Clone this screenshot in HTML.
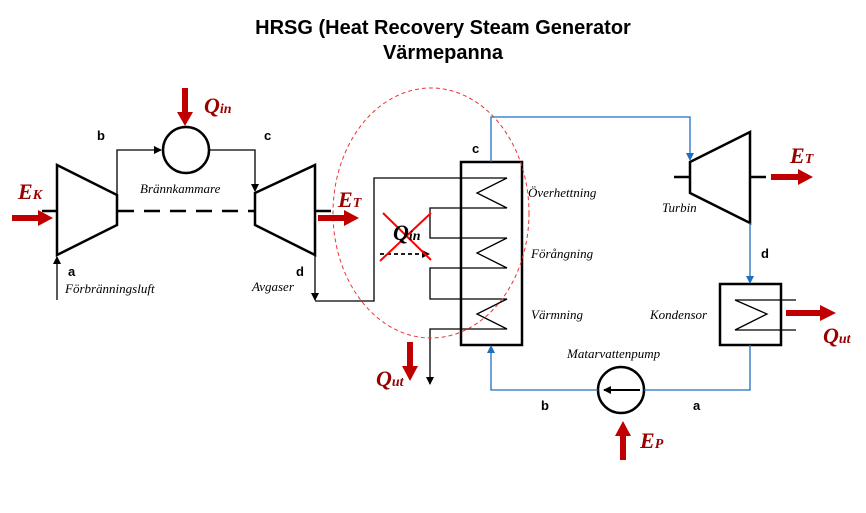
<!DOCTYPE html>
<html><head><meta charset="utf-8"><style>body{margin:0;background:#fff}svg{display:block}</style></head><body>
<svg width="866" height="513" viewBox="0 0 866 513" xmlns="http://www.w3.org/2000/svg">
<defs>
<marker id="ak" markerWidth="8" markerHeight="8" refX="7" refY="4" orient="auto" markerUnits="userSpaceOnUse"><path d="M0,0 L8,4 L0,8 Z" fill="#000"/></marker>
<marker id="ab" markerWidth="8" markerHeight="8" refX="7" refY="4" orient="auto" markerUnits="userSpaceOnUse"><path d="M0,0 L8,4 L0,8 Z" fill="#1f6fc0"/></marker>
</defs>
<g font-family="Liberation Sans, sans-serif" font-weight="bold" font-size="20" text-anchor="middle" fill="#000">
<text x="443" y="34">HRSG (Heat Recovery Steam Generator</text>
<text x="443" y="59">Värmepanna</text>
</g>
<g stroke="#000" stroke-width="2.5" fill="none">
<path d="M57,165 L117,195 L117,225 L57,255 Z"/>
<path d="M255,193 L315,165 L315,255 L255,225 Z"/>
<circle cx="186" cy="150" r="23"/>
<path d="M690,162 L750,132 L750,223 L690,193 Z"/>
<rect x="461" y="162" width="61" height="183"/>
<rect x="720" y="284" width="61" height="61"/>
<circle cx="621" cy="390" r="23"/>
</g>
<g stroke="#000" stroke-width="2.5">
<line x1="118" y1="211" x2="254" y2="211" stroke-dasharray="16,10"/>
<line x1="42" y1="211" x2="57" y2="211"/><line x1="315" y1="211" x2="331" y2="211"/>
<line x1="674" y1="177" x2="690" y2="177"/><line x1="750" y1="177" x2="766" y2="177"/>
</g>
<g stroke="#000" stroke-width="1.3" fill="none">
<line x1="57" y1="300" x2="57" y2="257" marker-end="url(#ak)"/>
<polyline points="117,195 117,150 161,150" marker-end="url(#ak)"/>
<polyline points="209,150 255,150 255,191" marker-end="url(#ak)"/>
<line x1="315" y1="255" x2="315" y2="300" marker-end="url(#ak)"/>
<polyline points="315,301 374,301 374,178 507,178 477,193 507,208 430,208 430,238 507,238 477,253 507,268 430,268 430,299 507,299 477,314 507,329 430,329 430,384" marker-end="url(#ak)"/>
<polyline points="796,300 735,300 767,314 735,330 796,330"/>
<line x1="640" y1="390" x2="604" y2="390" stroke-width="2" marker-end="url(#ak)"/>
<line x1="380" y1="254" x2="429" y2="254" stroke-dasharray="4,3" stroke-width="1.8" marker-end="url(#ak)"/>
</g>
<g stroke="#1f6fc0" stroke-width="1.3" fill="none">
<polyline points="491,162 491,117 690,117 690,160" marker-end="url(#ab)"/>
<line x1="750" y1="223" x2="750" y2="283" marker-end="url(#ab)"/>
<polyline points="750,345 750,390 644,390"/>
<polyline points="598,390 491,390 491,346" marker-end="url(#ab)"/>
</g>
<ellipse cx="431" cy="213" rx="98" ry="125" fill="none" stroke="#e33" stroke-width="1" stroke-dasharray="4,3"/>
<g stroke="#f00" stroke-width="2"><line x1="383" y1="213" x2="431" y2="260"/><line x1="431" y1="213" x2="380" y2="261"/></g>
<g fill="#c00000">
<path d="M12,215 L38,215 L38,210 L53,218 L38,226 L38,221 L12,221 Z"/>
<path d="M318,215 L344,215 L344,210 L359,218 L344,226 L344,221 L318,221 Z"/>
<path d="M771,174 L798,174 L798,169 L813,177 L798,185 L798,180 L771,180 Z"/>
<path d="M786,310 L820,310 L820,305 L836,313 L820,321 L820,316 L786,316 Z"/>
<path d="M182,88 L188,88 L188,112 L193,112 L185,126 L177,112 L182,112 Z"/>
<path d="M407,342 L413,342 L413,366 L418,366 L410,381 L402,366 L407,366 Z"/>
<path d="M620,460 L626,460 L626,436 L631,436 L623,421 L615,436 L620,436 Z"/>
</g>
<g font-family="Liberation Serif, serif" font-style="italic" font-weight="bold" fill="#900">
<text x="18" y="199" font-size="22">E<tspan font-size="14">K</tspan></text>
<text x="338" y="207" font-size="22">E<tspan font-size="14">T</tspan></text>
<text x="790" y="163" font-size="22">E<tspan font-size="14">T</tspan></text>
<text x="204" y="113" font-size="22">Q<tspan font-size="14">in</tspan></text>
<text x="376" y="386" font-size="22">Q<tspan font-size="14">ut</tspan></text>
<text x="823" y="343" font-size="22">Q<tspan font-size="14">ut</tspan></text>
<text x="640" y="448" font-size="22">E<tspan font-size="14">P</tspan></text>
</g>
<text x="393" y="240" font-family="Liberation Serif, serif" font-style="italic" font-weight="bold" font-size="22" fill="#000">Q<tspan font-size="14">in</tspan></text>
<g font-family="Liberation Sans, sans-serif" font-weight="bold" font-size="13" fill="#000">
<text x="97" y="140">b</text><text x="264" y="140">c</text><text x="68" y="276">a</text><text x="296" y="276">d</text>
<text x="472" y="153">c</text><text x="761" y="258">d</text><text x="541" y="410">b</text><text x="693" y="410">a</text>
</g>
<g font-family="Liberation Serif, serif" font-style="italic" font-size="13" fill="#000">
<text x="140" y="193">Brännkammare</text>
<text x="65" y="293">Förbränningsluft</text>
<text x="252" y="291">Avgaser</text>
<text x="528" y="197">Överhettning</text>
<text x="531" y="258">Förångning</text>
<text x="531" y="319">Värmning</text>
<text x="662" y="212">Turbin</text>
<text x="650" y="319">Kondensor</text>
<text x="567" y="358">Matarvattenpump</text>
</g>
</svg>
</body></html>
